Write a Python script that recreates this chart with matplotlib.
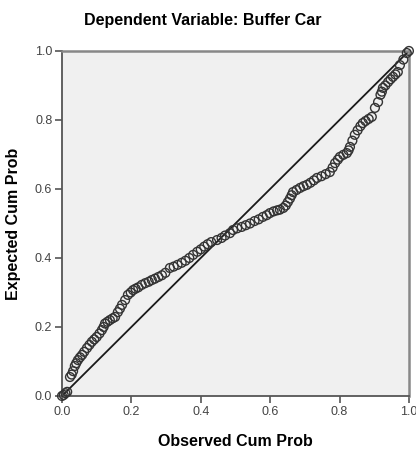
import matplotlib
matplotlib.use('Agg')
import matplotlib.pyplot as plt

# observed / expected cumulative probabilities
observed = [0.0, 0.005, 0.01, 0.015, 0.023, 0.028, 0.032, 0.037, 0.041, 0.046,
            0.052, 0.058, 0.064, 0.072, 0.079, 0.086, 0.093, 0.1, 0.108, 0.115,
            0.12, 0.124, 0.131, 0.138, 0.146, 0.153, 0.161, 0.167, 0.173, 0.182,
            0.19, 0.198, 0.205, 0.212, 0.22, 0.23, 0.24, 0.25, 0.259, 0.268,
            0.278, 0.288, 0.298, 0.311, 0.322, 0.333, 0.345, 0.356, 0.367, 0.378,
            0.39, 0.40, 0.41, 0.42, 0.43, 0.447, 0.46, 0.47, 0.484, 0.493,
            0.505, 0.518, 0.53, 0.542, 0.555, 0.567, 0.579, 0.59, 0.599, 0.61,
            0.62, 0.628, 0.638, 0.645, 0.651, 0.657, 0.662, 0.666, 0.676, 0.686,
            0.696, 0.706, 0.716, 0.726, 0.735, 0.748, 0.76, 0.772, 0.78, 0.787,
            0.795, 0.801, 0.811, 0.821, 0.826, 0.83, 0.837, 0.844, 0.852, 0.86,
            0.867, 0.875, 0.884, 0.893, 0.902, 0.911, 0.918, 0.922, 0.925, 0.932,
            0.94, 0.947, 0.954, 0.961, 0.968, 0.974, 0.984, 0.994, 1.0]
expected = [0.0, 0.003, 0.008, 0.012, 0.055, 0.062, 0.072, 0.087, 0.095, 0.104,
            0.112, 0.119, 0.128, 0.139, 0.148, 0.157, 0.164, 0.171, 0.181, 0.191,
            0.2, 0.21, 0.215, 0.22, 0.225, 0.229, 0.243, 0.253, 0.264, 0.278,
            0.293, 0.3, 0.307, 0.311, 0.315, 0.322, 0.327, 0.331, 0.336, 0.34,
            0.345, 0.35, 0.357, 0.371, 0.375, 0.38, 0.386, 0.392, 0.4, 0.409,
            0.418, 0.425, 0.433, 0.44, 0.446, 0.452, 0.458, 0.465, 0.472, 0.481,
            0.486, 0.49, 0.495, 0.5, 0.507, 0.512, 0.519, 0.524, 0.53, 0.535,
            0.538, 0.54, 0.545, 0.552, 0.562, 0.572, 0.582, 0.591, 0.597, 0.603,
            0.608, 0.612, 0.618, 0.625, 0.632, 0.637, 0.643, 0.649, 0.662, 0.675,
            0.685, 0.693, 0.699, 0.704, 0.712, 0.722, 0.74, 0.757, 0.77, 0.782,
            0.791, 0.797, 0.803, 0.809, 0.835, 0.852, 0.873, 0.882, 0.893, 0.9,
            0.91, 0.918, 0.925, 0.932, 0.939, 0.959, 0.975, 0.994, 1.0]
ticks = [0.0, 0.2, 0.4, 0.6, 0.8, 1.0]
tick_labels = ['0.0', '0.2', '0.4', '0.6', '0.8', '1.0']

plt.rcParams['font.family'] = ['Liberation Sans', 'DejaVu Sans']

fig = plt.figure(figsize=(4.16, 4.51), dpi=100)
ax = fig.add_axes([0.149, 0.122, 0.834, 0.765])
ax.set_facecolor('#f0f0f0')

# reference diagonal
ax.plot([0, 1], [0, 1], color='#1a1a1a', linewidth=1.3, zorder=2)
ax.scatter(observed, expected, s=40, facecolors='none', edgecolors='#333333',
           linewidths=1.0, zorder=3, clip_on=False)

ax.set_xlim(0, 1)
ax.set_ylim(0, 1)
ax.set_xticks(ticks)
ax.set_xticklabels(tick_labels)
ax.set_yticks(ticks)
ax.set_yticklabels(tick_labels)
ax.tick_params(direction='out', length=5, width=1.2, color='#555555',
               labelsize=9, labelcolor='#444444', pad=2)

for side in ['left', 'bottom']:
    ax.spines[side].set_color('#555555')
    ax.spines[side].set_linewidth(1.3)
for side in ['top', 'right']:
    ax.spines[side].set_color('#888888')
    ax.spines[side].set_linewidth(1.8)

ax.set_xlabel('Observed Cum Prob', fontsize=11.5, fontweight='bold', labelpad=12)
ax.set_ylabel('Expected Cum Prob', fontsize=11.5, fontweight='bold', labelpad=10)
fig.text(0.487, 0.955, 'Dependent Variable: Buffer Car', fontsize=11.5,
         fontweight='bold', ha='center', va='center')

plt.savefig('out.png', dpi=100)
